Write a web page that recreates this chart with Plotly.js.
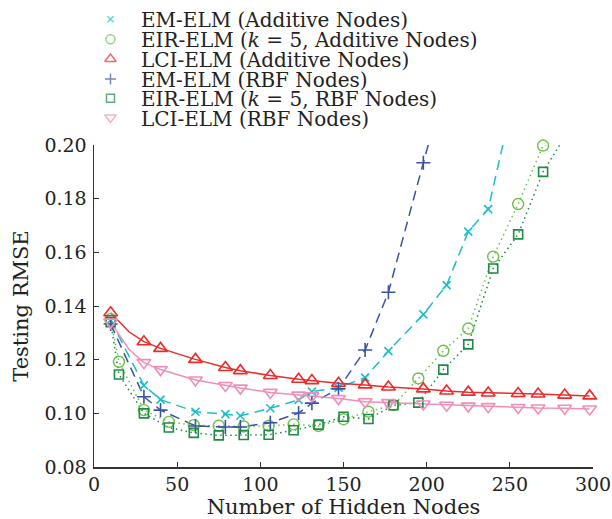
<!DOCTYPE html>
<html>
<head>
<meta charset="utf-8">
<script src="https://cdn.plot.ly/plotly-3.0.1.min.js"></script>
<style>html,body{margin:0;padding:0;background:#fff;}#chart{width:612px;height:519px;}</style>
</head>
<body>
<div id="chart"></div>
<script>
// ---- data ----
const nodesLCI = [10,21,30,40,61,79,88,106,123,131,147,163,177,198,212,225,237,255,267,283,298];
const lciAdd   = [0.1375,0.1304,0.1267,0.1242,0.1201,0.1171,0.1159,0.1141,0.1127,0.1122,0.1112,0.1106,0.1098,0.1091,0.1083,0.1079,0.1076,0.1074,0.1072,0.1068,0.1065];
const lciRbf   = [0.1340,0.1239,0.1189,0.1163,0.1124,0.1104,0.1094,0.1078,0.1068,0.1065,0.1055,0.1043,0.1040,0.1035,0.1030,0.1027,0.1025,0.1022,0.1020,0.1019,0.1016];
const lciUnmarked = [21];

const nodesEMAdd = [10,30,40,61,79,88,106,123,131,147,163,177,198,212,225,237,255];
const emAdd      = [0.1348,0.1104,0.1051,0.1006,0.0997,0.0991,0.1019,0.1050,0.1081,0.1096,0.1133,0.1232,0.1369,0.1478,0.1677,0.1761,0.2250];

const nodesEMRbf = [10,30,40,61,79,88,106,123,131,147,163,177,198,212];
const emRbf      = [0.1333,0.1062,0.1012,0.0953,0.0949,0.0949,0.0965,0.1001,0.1038,0.1091,0.1236,0.1451,0.1934,0.2250];

const nodesEIR = [10,15,30,45,60,75,90,105,120,135,150,165,180,195,210,225,240,255,270,285];
const eirAdd   = [0.1351,0.1192,0.1012,0.0968,0.0956,0.0954,0.0951,0.0953,0.0959,0.0953,0.0978,0.1006,0.1031,0.1130,0.1233,0.1316,0.1584,0.1780,0.1998,0.2020];
const eirRbf   = [0.1340,0.1145,0.1000,0.0947,0.0927,0.0918,0.0919,0.0920,0.0937,0.0958,0.0987,0.0979,0.1030,0.1040,0.1163,0.1257,0.1540,0.1667,0.1900,0.2050];

const seriesNames = [
  'EM-ELM (Additive Nodes)',
  'EIR-ELM (<i>k</i> = 5, Additive Nodes)',
  'LCI-ELM (Additive Nodes)',
  'EM-ELM (RBF Nodes)',
  'EIR-ELM (<i>k</i> = 5, RBF Nodes)',
  'LCI-ELM (RBF Nodes)'
];
const xTicks = [0,50,100,150,200,250,300];
const yTicks = [0.08,0.10,0.12,0.14,0.16,0.18,0.20];

// ---- layout / styles ----
const W = 612, H = 519;
const YMAX = 0.20;
const PLOT = {left:93.5, right:592.7, top:145, bottom:467};   // pixel frame of the data axes
const legendRowsPx = [19.3, 39.3, 59, 79, 98.3, 117.5];        // legend row centres (px from top)
const legendMarkX = 110, legendTextX = 139;

const styles = [
  {x:nodesEMAdd, y:emAdd,  color:'#1dbdca', dash:'10px,6px',    symbol:'x-thin-open',        size:8,  lsize:6,  mlw:1.6},
  {x:nodesEIR,   y:eirAdd, color:'#6cc04a', dash:'1.5px,3.5px', symbol:'circle-open',        size:11, lsize:9,  mlw:1.4},
  {x:nodesLCI,   y:lciAdd, color:'#ee2a2a', dash:'solid',       symbol:'triangle-up-open',   size:12, lsize:10, mlw:1.6},
  {x:nodesEMRbf, y:emRbf,  color:'#3a53a4', dash:'10px,6px',    symbol:'cross-thin-open',    size:10, lsize:8,  mlw:1.6},
  {x:nodesEIR,   y:eirRbf, color:'#1d8a45', dash:'1.5px,3.5px', symbol:'square-open',        size:9,  lsize:8,  mlw:1.6},
  {x:nodesLCI,   y:lciRbf, color:'#f28db8', dash:'solid',       symbol:'triangle-down-open', size:12, lsize:10, mlw:1.6}
];

const lineTraces = styles.map(s => ({
  type:'scatter', mode:'lines', x:s.x, y:s.y, showlegend:false, hoverinfo:'skip',
  line:{color:s.color, width:1.5, dash:s.dash}
}));
const markerTraces = styles.map((s,i) => {
  const xs = [], ys = [];
  s.x.forEach((xv,j) => {
    if (s.y[j] <= YMAX + 1e-9 && !((s.x === nodesLCI) && lciUnmarked.includes(xv))) { xs.push(xv); ys.push(s.y[j]); }
  });
  return {
    type:'scatter', mode:'markers', x:xs, y:ys, name:seriesNames[i], cliponaxis:false, showlegend:false,
    marker:{symbol:s.symbol, size:s.size, color:s.color, line:{color:s.color, width:s.mlw}}
  };
});

// legend keys drawn on a pixel-unit helper subplot that spans the whole area above the x axis
const legendKeys = {
  type:'scatter', mode:'markers', xaxis:'x2', yaxis:'y2', cliponaxis:false, showlegend:false, hoverinfo:'skip',
  x: styles.map(() => legendMarkX), y: legendRowsPx,
  marker:{symbol: styles.map(s=>s.symbol), size: styles.map(s=>s.lsize), color: styles.map(s=>s.color),
          line:{color: styles.map(s=>s.color), width:1.5}}
};

const legendFont = {family:'DejaVu Serif, serif', size:20, color:'#222'};
const legendAnnotations = seriesNames.map((t,i) => ({
  xref:'x2', yref:'y2', showarrow:false, xanchor:'left', yanchor:'middle',
  x:legendTextX, y:legendRowsPx[i] + 1,
  text:t, font:legendFont
}));

const tickFont = {family:'DejaVu Serif, serif', size:19, color:'#222'};
const titleFont = {family:'DejaVu Serif, serif', size:21, color:'#222'};
const layout = {
  width:W, height:H,
  margin:{l:PLOT.left, r:W-PLOT.right, t:0, b:H-PLOT.bottom, pad:0},
  paper_bgcolor:'#fff', plot_bgcolor:'rgba(0,0,0,0)',
  showlegend:false,
  annotations: legendAnnotations,
  xaxis:{range:[0,300], tickvals:xTicks, ticktext:xTicks.map(String), ticks:'inside', ticklen:5, tickwidth:1,
         tickcolor:'#333', showline:true, linecolor:'#333', linewidth:1.5, showgrid:false, zeroline:false,
         anchor:'y',
         title:{text:'Number of Hidden Nodes', font:titleFont, standoff:6}, tickfont:tickFont},
  yaxis:{range:[0.08,0.20], domain:[0, (PLOT.bottom-PLOT.top)/PLOT.bottom],
         tickvals:yTicks, ticktext:yTicks.map(v=>v.toFixed(2)), ticks:'inside', ticklen:5, tickwidth:1,
         tickcolor:'#333', showline:true, linecolor:'#333', linewidth:1.5, showgrid:false, zeroline:false,
         ticklabelstandoff:2, anchor:'x',
         title:{text:'Testing RMSE', font:titleFont, standoff:10}, tickfont:tickFont},
  xaxis2:{domain:[0,1], anchor:'y2', range:[PLOT.left, PLOT.right], visible:false, fixedrange:true},
  yaxis2:{domain:[0,1], anchor:'x2', range:[PLOT.bottom, 0], visible:false, fixedrange:true}
};

Plotly.newPlot('chart', lineTraces.concat(markerTraces, [legendKeys]), layout, {displayModeBar:false, staticPlot:true});
</script>
</body>
</html>
